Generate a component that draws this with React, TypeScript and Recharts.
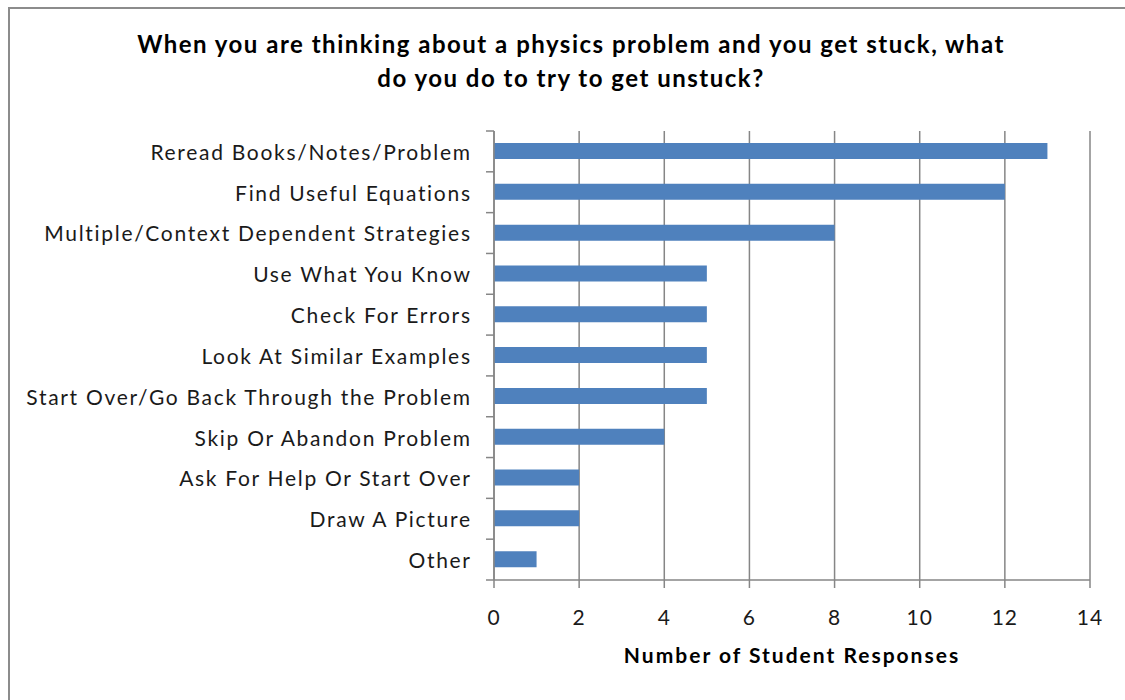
import React from "react";
import { BarChart, Bar, XAxis, YAxis, CartesianGrid } from "recharts";

const strategies = [
  "Reread Books/Notes/Problem",
  "Find Useful Equations",
  "Multiple/Context Dependent Strategies",
  "Use What You Know",
  "Check For Errors",
  "Look At Similar Examples",
  "Start Over/Go Back Through the Problem",
  "Skip Or Abandon Problem",
  "Ask For Help Or Start Over",
  "Draw A Picture",
  "Other",
];
const responses = [13, 12, 8, 5, 5, 5, 5, 4, 2, 2, 1];
const xTicks = [0, 2, 4, 6, 8, 10, 12, 14];
const titleLines = [
  "When you are thinking about a physics problem and you get stuck, what",
  "do you do to try to get unstuck?",
];
const xAxisTitle = "Number of Student Responses";

const data = strategies.map((name, i) => ({ name, value: responses[i] }));

const FONT = "Lato, 'Open Sans', sans-serif";
const AXIS_GRAY = "#868686";
const LABEL_SPACING = 1.7;

// Category label plus an Excel-style tick mark on the band boundary
const CategoryTick = (props: any) => {
  const { x, y, payload, index, visibleTicksCount } = props;
  const half = payload.offset || 0;
  const ax = x + 24;
  return (
    <g>
      <line x1={ax - 8} x2={ax} y1={y - half} y2={y - half} stroke={AXIS_GRAY} strokeWidth={1.5} />
      {index === visibleTicksCount - 1 && (
        <line x1={ax - 8} x2={ax} y1={y + half} y2={y + half} stroke={AXIS_GRAY} strokeWidth={1.5} />
      )}
      <text
        x={x + LABEL_SPACING}
        y={y}
        dy="0.4em"
        textAnchor="end"
        fill="#1a1a1a"
        fontSize={21}
        fontFamily={FONT}
        letterSpacing={LABEL_SPACING}
      >
        {payload.value}
      </text>
    </g>
  );
};

export default function App() {
  return (
    <div
      style={{
        position: "fixed",
        left: 0,
        top: 0,
        width: 1125,
        height: 700,
        overflow: "hidden",
        background: "#fff",
      }}
    >
      {/* chart-area frame: only the top and left edges fall inside the page */}
      <div
        style={{
          position: "absolute",
          left: 8,
          top: 7,
          width: 1117,
          height: 693,
          boxSizing: "border-box",
          borderTop: "2px solid #8c8c8c",
          borderLeft: "2px solid #8c8c8c",
        }}
      />
      <svg width={1117} height={120} style={{ position: "absolute", left: 8, top: 8 }}>
        {titleLines.map((t, i) => (
          <text
            key={i}
            x={563}
            y={45 + i * 34}
            textAnchor="middle"
            fontSize={24}
            fontWeight="bold"
            fontFamily={FONT}
            letterSpacing={1.5}
            fill="#000"
          >
            {t}
          </text>
        ))}
      </svg>
      <div style={{ position: "absolute", left: 8, top: 8 }}>
        <BarChart
          width={1117}
          height={692}
          data={data}
          layout="vertical"
          margin={{ top: 123, right: 35, bottom: 80, left: 6 }}
        >
          <CartesianGrid horizontal={false} stroke={AXIS_GRAY} strokeWidth={1.5} />
          <XAxis
            type="number"
            domain={[0, 14]}
            ticks={xTicks}
            interval={0}
            tickSize={8}
            tickMargin={22}
            height={40}
            stroke={AXIS_GRAY}
            strokeWidth={1.5}
            tick={{ fill: "#1a1a1a", fontSize: 21, fontFamily: FONT, letterSpacing: 1 }}
            label={{
              value: xAxisTitle,
              position: "insideBottom",
              offset: -43,
              style: { fontSize: 21, fontWeight: "bold", fontFamily: FONT, fill: "#000", letterSpacing: 2 },
            }}
          />
          <YAxis
            type="category"
            dataKey="name"
            width={480}
            tickLine={false}
            tick={<CategoryTick />}
            interval={0}
            tickSize={6}
            tickMargin={18}
            stroke={AXIS_GRAY}
            strokeWidth={1.5}
          />
          <Bar dataKey="value" fill="#4F81BD" barSize={16} isAnimationActive={false} />
        </BarChart>
      </div>
    </div>
  );
}
